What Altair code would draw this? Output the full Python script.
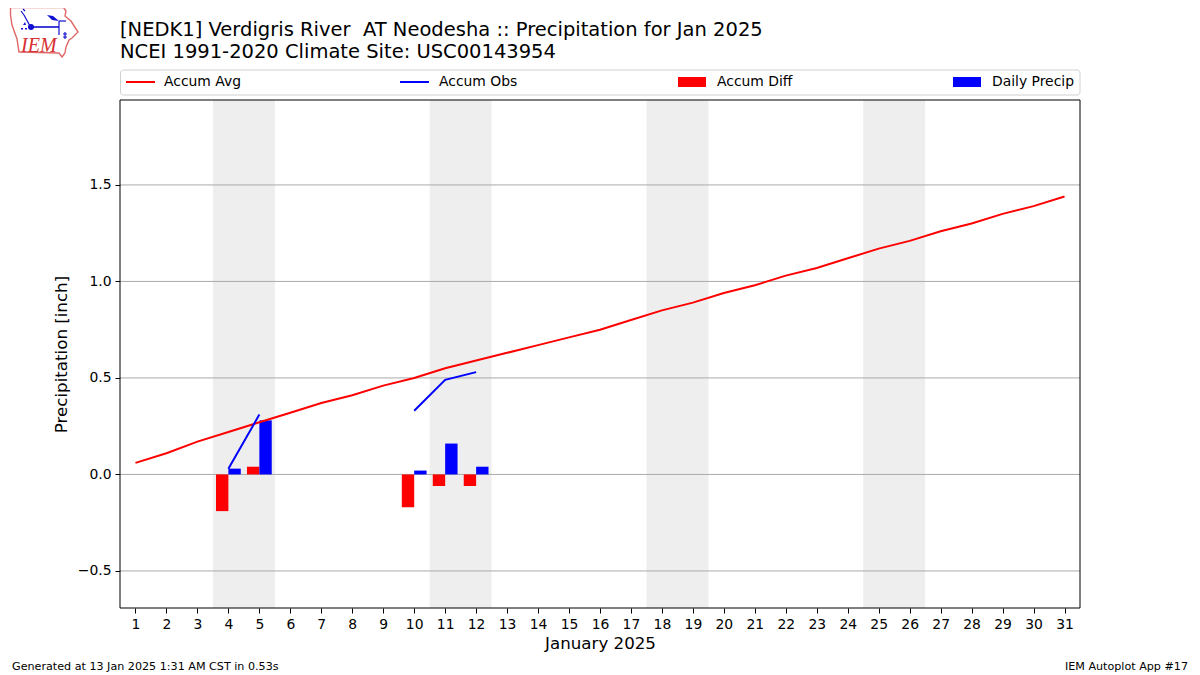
import base64
import altair as alt
import pandas as pd

days = list(range(1, 32))
accum_avg = [0.06, 0.11, 0.17, 0.22, 0.27, 0.32, 0.37, 0.41, 0.46, 0.50, 0.55, 0.59, 0.63, 0.67, 0.71, 0.75,
             0.80, 0.85, 0.89, 0.94, 0.98, 1.03, 1.07, 1.12, 1.17, 1.21, 1.26, 1.30, 1.35, 1.39, 1.44]
accum_obs = [None, None, None, 0.03, 0.31, None, None, None, None, 0.33, 0.49, 0.53] + [None] * 19
bar_days = [4, 5, 10, 11, 12]
accum_diff = [-0.19, 0.04, -0.17, -0.06, -0.06]
daily_precip = [0.03, 0.28, 0.02, 0.16, 0.04]
weekend_start = [3.5, 10.5, 17.5, 24.5]
weekend_end = [5.5, 12.5, 19.5, 26.5]
y_ticks = [-0.5, 0.0, 0.5, 1.0, 1.5]

title_1 = "[NEDK1] Verdigris River\u00a0\u00a0AT Neodesha :: Precipitation for Jan 2025"
title_2 = "NCEI 1991-2020 Climate Site: USC00143954"
footer_left = "Generated at 13 Jan 2025 1:31 AM CST in 0.53s"
footer_right = "IEM Autoplot App #17"

FONT = "DejaVu Sans"
LEFT, TOP = 120, 100
W, H = 960, 508

xs = alt.Scale(domain=[0.5, 31.5], nice=False, zero=False)
ys = alt.Scale(domain=[-0.692, 1.94], nice=False, zero=False)
x_axis = alt.Axis(values=days, format="d", labelAngle=0, labelFontSize=13.9, labelFont=FONT,
                  labelColor="black", tickColor="black", tickSize=5, domain=False, grid=False,
                  title="January 2025", titleFont=FONT, titleFontSize=16.67, titleFontWeight="normal",
                  titleColor="black", titlePadding=5, labelPadding=4, labelOverlap=False)
y_axis = alt.Axis(values=y_ticks, format=".1f", labelFontSize=13.9, labelFont=FONT,
                  labelColor="black", tickColor="black", tickSize=5, domain=False, grid=False,
                  title="Precipitation [inch]", titleFont=FONT, titleFontSize=16.67, titleFontWeight="normal",
                  titleColor="black", titlePadding=7, labelPadding=4)

line_df = pd.DataFrame({"day": days, "avg": accum_avg, "obs": accum_obs})
bar_df = pd.DataFrame({"day": bar_days, "diff": accum_diff, "daily": daily_precip, "zero": [0] * len(bar_days)})
span_df = pd.DataFrame({"a": weekend_start, "b": weekend_end})
grid_df = pd.DataFrame({"v": y_ticks})

spans = alt.Chart(span_df).mark_rect(color="#eeeeee").encode(
    x=alt.X("a:Q", scale=xs, axis=x_axis),
    x2="b:Q",
    y=alt.value(0), y2=alt.value(H),
)
grid = alt.Chart(grid_df).mark_rule(color="#aaaaaa", strokeWidth=1).encode(
    y=alt.Y("v:Q", scale=ys, axis=y_axis),
)
diff_bars = alt.Chart(bar_df).transform_calculate(left="datum.day - 0.4").mark_rect(color="#ff0000").encode(
    x=alt.X("left:Q", scale=xs, axis=x_axis), x2="day:Q",
    y=alt.Y("diff:Q", scale=ys, axis=y_axis), y2="zero:Q",
)
daily_bars = alt.Chart(bar_df).transform_calculate(right="datum.day + 0.4").mark_rect(color="#0000ff").encode(
    x=alt.X("day:Q", scale=xs, axis=x_axis), x2="right:Q",
    y=alt.Y("daily:Q", scale=ys, axis=y_axis), y2="zero:Q",
)
avg_line = alt.Chart(line_df).mark_line(color="#ff0000", strokeWidth=2).encode(
    x=alt.X("day:Q", scale=xs, axis=x_axis), y=alt.Y("avg:Q", scale=ys, axis=y_axis),
)
obs_line = alt.Chart(line_df).mark_line(color="#0000ff", strokeWidth=2).encode(
    x=alt.X("day:Q", scale=xs, axis=x_axis), y=alt.Y("obs:Q", scale=ys, axis=y_axis),
)

one = alt.Data(values=[{}])


def text(s, px, py, size, align="left", color="black", font=FONT, style="normal"):
    return alt.Chart(one).mark_text(text=s, font=font, fontSize=size, align=align, baseline="alphabetic",
                                    color=color, fontStyle=style).encode(
        x=alt.value(px - LEFT), y=alt.value(py - TOP))


def hline(x0, x1, py, color):
    return alt.Chart(one).mark_rule(color=color, strokeWidth=2).encode(
        x=alt.value(x0 - LEFT), x2=alt.value(x1 - LEFT), y=alt.value(py - TOP))


def box(x0, x1, y0, y1, color):
    return alt.Chart(one).mark_rect(color=color).encode(
        x=alt.value(x0 - LEFT), x2=alt.value(x1 - LEFT), y=alt.value(y0 - TOP), y2=alt.value(y1 - TOP))


frame = alt.Chart(one).mark_rect(fillOpacity=0, stroke="black", strokeWidth=1).encode(
    x=alt.value(0), x2=alt.value(W), y=alt.value(0), y2=alt.value(H))
legend_box = alt.Chart(one).mark_rect(fill="white", stroke="#d0d0d0", strokeWidth=1, cornerRadius=3).encode(
    x=alt.value(0.5), x2=alt.value(W), y=alt.value(70 - TOP), y2=alt.value(95 - TOP))

logo_svg = """<svg xmlns='http://www.w3.org/2000/svg' width='72' height='54' viewBox='0 0 72 54'>
<path d='M1.5 1.5 L54.5 1.5 L57 5 L56 10 L62 15 L69 26 L63 32 L60 34 L57 41 L56 47 L53 51 L50 47 L10 46 L8 33 L3 19 L1.5 9 Z'
 fill='white' stroke='#e06868' stroke-width='1.4'/>
<g stroke='#1010d0' fill='none' stroke-width='1.2'>
<path d='M21 21 H50' stroke-width='1.6'/><path d='M15 9 L21 20'/><path d='M50 15 H57'/><path d='M50 15 V29'/>
<path d='M12 5 L15 9 M14 3 L16 5'/><path d='M54 28 H58 M54 31 H58 M56 26 V33'/></g>
<circle cx='22' cy='21' r='3' fill='#1010d0'/>
<path d='M38 9 L44 10 L50 15 L43 14 Z' fill='#1010d0'/>
<path d='M14 19 L16 16 L17 19 Z M12 22 h2 v1.5 h-2 Z M16 22 h2 v1.5 h-2 Z' fill='#1010d0'/>
</svg>"""
logo_url = "data:image/svg+xml;base64," + base64.b64encode(logo_svg.encode()).decode()
logo = alt.Chart(one).mark_image(url=logo_url, width=72, height=54, align="left", baseline="top").encode(
    x=alt.value(9 - LEFT), y=alt.value(6 - TOP))

chart = alt.layer(
    spans, grid, diff_bars, daily_bars, avg_line, obs_line, frame,
    logo, text("IEM", 21, 52, 20, color="#d83030", font="Liberation Serif", style="italic"),
    text(title_1, 120, 35.5, 19.5), text(title_2, 120, 57.5, 19.5),
    legend_box,
    hline(126, 155, 82, "#ff0000"), text("Accum Avg", 164, 86, 13.9),
    hline(400, 429, 82, "#0000ff"), text("Accum Obs", 439, 86, 13.9),
    box(678, 706, 77, 87, "#ff0000"), text("Accum Diff", 717, 86, 13.9),
    box(953, 981, 77, 87, "#0000ff"), text("Daily Precip", 992, 86, 13.9),
    text(footer_left, 12, 670, 11.15),
    text(footer_right, 1188, 670, 11.15, align="right"),
).properties(
    width=W, height=H,
    autosize=alt.AutoSizeParams(type="none"),
    padding={"left": LEFT - 8, "top": TOP - 8, "right": 1192 - LEFT - W, "bottom": 673 - TOP - H},
    background="white",
).configure_view(stroke=None)

chart.save("out.html", embed_options={"renderer": "svg", "actions": False})
